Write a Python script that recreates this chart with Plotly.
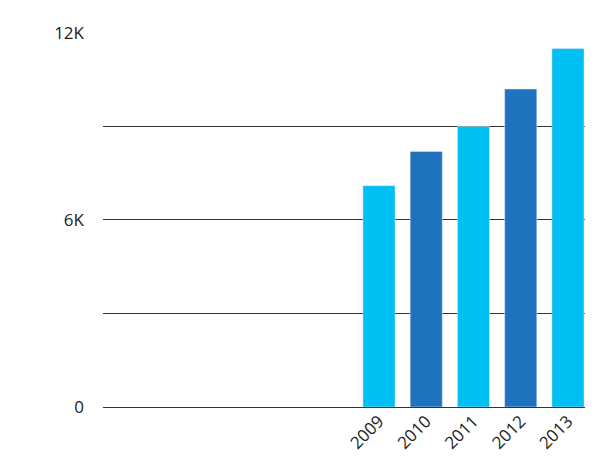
import plotly.graph_objects as go

years = [2009, 2010, 2011, 2012, 2013]
values = [7100, 8200, 9000, 10200, 11500]
colors = ["#00BFF2", "#1F73BE", "#00BFF2", "#1F73BE", "#00BFF2"]
y_tickvals = [0, 3000, 6000, 9000, 12000]
y_ticktext = ["0", "", "6K", "", "12K"]

fig = go.Figure(go.Bar(x=years, y=values, marker_color=colors, width=0.68))
fig.update_layout(
    width=596, height=475, margin=dict(l=95, r=19, t=24, b=76, autoexpand=False),
    paper_bgcolor="white", plot_bgcolor="white", showlegend=False,
    font=dict(family="Open Sans", size=17, color="#222"),
    xaxis=dict(range=[2003.16, 2013.36], tickvals=years, ticktext=[str(y) for y in years],
               tickangle=-45, showgrid=False, zeroline=False, ticks="", automargin=False),
    yaxis=dict(range=[0, 12030], tickvals=y_tickvals, ticktext=y_ticktext,
               showgrid=True, gridcolor="#333", gridwidth=1, zeroline=True,
               zerolinecolor="#333", zerolinewidth=1, ticklabelstandoff=18, automargin=False),
)
fig.write_html("out.html")
